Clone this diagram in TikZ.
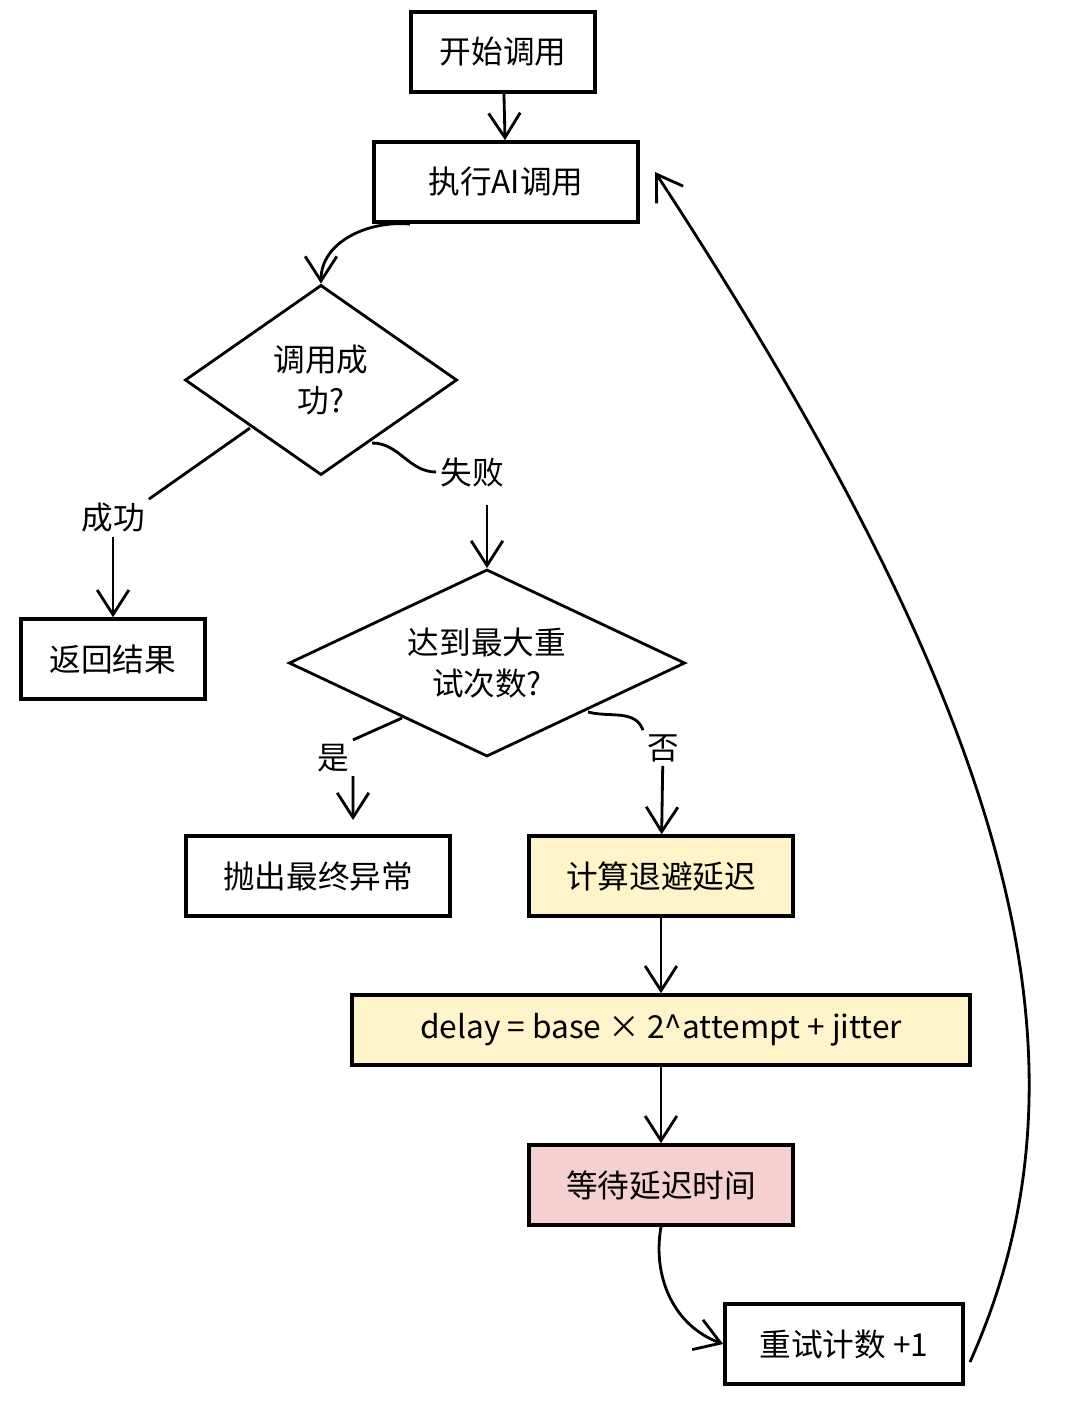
\documentclass[tikz,border=0pt]{standalone}
\usepackage{fontspec}
\setmainfont{Noto Sans CJK SC}
\usetikzlibrary{shapes.geometric,arrows.meta}
\definecolor{calcfill}{HTML}{FFF3C9}
\definecolor{waitfill}{HTML}{F5D0D0}
\tikzset{
	box/.style={draw=black,line width=1pt,minimum width=#1,minimum height=0.8cm,inner sep=0pt,font=\fontsize{9pt}{11pt}\selectfont},
	box/.default=2.64cm,
	dec/.style={draw=black,line width=0.8pt,diamond,aspect=1.45,inner sep=0pt,align=center,font=\fontsize{9pt}{11.5pt}\selectfont},
	lbl/.style={inner sep=1pt,font=\fontsize{9pt}{11pt}\selectfont},
	arr/.style={-{Straight Barb[length=7pt,width=9pt]},line width=0.8pt},
	ln/.style={line width=0.8pt}
}
\begin{document}
\begin{tikzpicture}[x=0.01cm,y=-0.01cm]
	\useasboundingbox (0,0) rectangle (1080,1405);
	\node[box=1.84cm](start) at (503,52){开始调用};
	\node[box](exec) at (506,182){执行\textit{AI}调用};
	\node[dec,minimum width=2.72cm,minimum height=1.9cm](succ) at (321,380){调用成\\功?};
	\node[box=1.84cm](ret) at (113,659){返回结果};
	\node[dec,minimum width=3.96cm,minimum height=1.87cm](max) at (487,663){达到最大重\\试次数?};
	\node[box](throw) at (318,876){抛出最终异常};
	\node[box,fill=calcfill](calc) at (661,876){计算退避延迟};
	\node[box=6.18cm,minimum height=0.7cm,fill=calcfill](delay) at (661,1030){delay = base × 2\^{}attempt + jitter};
	\node[box,fill=waitfill](wait) at (661,1185){等待延迟时间};
	\node[box=2.38cm](cnt) at (844,1344){重试计数 +1};
	% labels on the branches
	\node[lbl](yes1) at (113,518){成功};
	\node[lbl](no1) at (472,472){失败};
	\node[lbl](yes2) at (333,758){是};
	\node[lbl](no2) at (663,748){否};
	% free ends
	\coordinate (execout) at (410,224);
	\coordinate (succout) at (250,428);
	\coordinate (failout) at (372,443);
	\coordinate (failin) at (487,505);
	\coordinate (maxout) at (402,718);
	\coordinate (maxno) at (588,712);
	\coordinate (throwin) at (353,820);
	\coordinate (cntout) at (970,1362);
	\coordinate (execin) at (655,172);
	\draw[arr] (start)--(exec);
	\draw[arr] (execout) to[out=175,in=90] (succ.north);
	\draw[ln] (succout)--(yes1.north east);
	\draw[arr] (yes1)--(ret);
	\draw[ln] (failout) to[out=0,in=180] (no1.west);
	\draw[arr] (failin)--(max.north);
	\draw[ln] (maxout)--(yes2.north east);
	\draw[arr] (yes2.south east)--(throwin);
	\draw[ln] (maxno) to[out=-15,in=110] (no2.north west);
	\draw[arr] (no2)--(calc);
	\draw[arr] (calc)--(delay);
	\draw[arr] (delay)--(wait);
	\draw[arr] (wait.south) to[out=-100,in=160] (cnt.west);
	\draw[arr] (cntout) .. controls (1110,1050) and (1000,700) .. (execin);
\end{tikzpicture}
\end{document}
